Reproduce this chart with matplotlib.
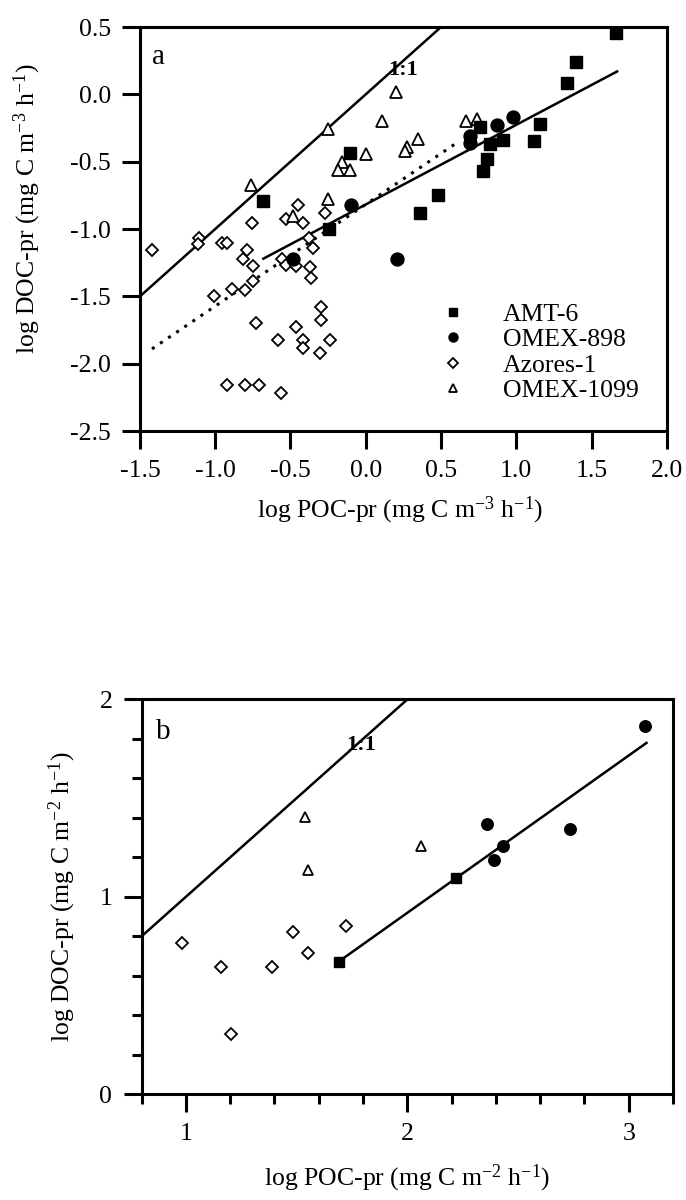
import numpy as np
import matplotlib
matplotlib.use("Agg")
import matplotlib.pyplot as plt
from matplotlib.lines import Line2D

plt.rcParams['font.family'] = ['Liberation Serif', 'DejaVu Serif']
plt.rcParams['mathtext.fontset'] = 'custom'
plt.rcParams['mathtext.rm'] = 'Liberation Serif'
plt.rcParams['mathtext.it'] = 'Liberation Serif:italic'
plt.rcParams['axes.unicode_minus'] = False

# ---- panel a: volumetric rates ----
amt_a_x = [-0.68, -0.105, -0.245, 0.363, 0.477, 0.758, 0.779, 0.808, 0.824, 0.913,
           1.116, 1.156, 1.34, 1.395, 1.665]
amt_a_y = [-0.79, -0.435, -1.0, -0.883, -0.749, -0.239, -0.567, -0.48, -0.369, -0.338,
           -0.348, -0.219, 0.087, 0.241, 0.453]

omex898_a_x = [-0.48, -0.10, 0.21, 0.69, 0.69, 0.873, 0.975]
omex898_a_y = [-1.22, -0.82, -1.22, -0.31, -0.36, -0.224, -0.169]

azores_a_x = [-1.42, -1.108, -1.117, -0.958, -0.924, -0.758, -0.453, -0.533, -0.416, -0.272,
              -0.378, -0.349, -0.787, -0.814, -0.748, -0.559, -0.533, -0.46, -0.371, -0.365,
              -0.748, -0.803, -0.887, -1.007, -0.294, -0.298, -0.732, -0.46, -0.582, -0.42,
              -0.416, -0.238, -0.305, -0.92, -0.803, -0.71, -0.564]
azores_a_y = [-1.159, -1.065, -1.114, -1.107, -1.102, -0.953, -0.821, -0.928, -0.957, -0.883,
              -1.065, -1.139, -1.157, -1.226, -1.276, -1.219, -1.264, -1.276, -1.284, -1.363,
              -1.383, -1.455, -1.445, -1.495, -1.582, -1.674, -1.699, -1.724, -1.826, -1.821,
              -1.886, -1.826, -1.923, -2.155, -2.155, -2.155, -2.221]

omex1099_a_x = [-0.76, -0.25, -0.25, -0.48, -0.157, -0.187, -0.106, 0.0, 0.105, 0.198,
                0.271, 0.26, 0.348, 0.669, 0.736]
omex1099_a_y = [-0.67, -0.26, -0.78, -0.90, -0.50, -0.56, -0.56, -0.44, -0.20, 0.017,
                -0.39, -0.42, -0.33, -0.20, -0.18]

one_a_x = [-1.5, 0.5]
fit_a_x = [-0.68, 1.67]
fit_a_y = [-1.22, 0.17]
dot_a_x = [-1.42, 0.61]
dot_a_y = [-1.89, -0.356]

xticks_a = [-1.5, -1.0, -0.5, 0.0, 0.5, 1.0, 1.5, 2.0]
yticks_a = [-2.5, -2.0, -1.5, -1.0, -0.5, 0.0, 0.5]

# ---- panel b: integrated rates ----
amt_b_x = [1.692, 2.222]
amt_b_y = [0.672, 1.094]
omex898_b_x = [2.362, 2.392, 2.433, 2.734, 3.072]
omex898_b_y = [1.367, 1.186, 1.257, 1.343, 1.866]
azores_b_x = [0.981, 1.161, 1.203, 1.391, 1.482, 1.553, 1.722]
azores_b_y = [0.765, 0.646, 0.304, 0.646, 0.823, 0.714, 0.854]
omex1099_b_x = [1.539, 1.553, 2.064]
omex1099_b_y = [1.406, 1.136, 1.257]

one_b_x = [0.8, 2.0]
fit_b_x = [1.69, 3.08]
fit_b_y = [0.672, 1.78]

xticks_b = [1, 2, 3]
yticks_b = [0, 1, 2]

labels = ['AMT-6', 'OMEX-898', 'Azores-1', 'OMEX-1099']

fs = 18.5
lw_sp = 2.2

fig = plt.figure(figsize=(6.86, 12), dpi=100)
axa = fig.add_axes([0.204, 0.6408, 0.768, 0.3367])
axb = fig.add_axes([0.2063, 0.0881, 0.7748, 0.329])


def style(ax):
    for s in ax.spines.values():
        s.set_linewidth(lw_sp)
    ax.tick_params(which='major', direction='out', length=13, width=lw_sp,
                   labelsize=fs, pad=8)
    ax.tick_params(which='minor', direction='out', length=7, width=lw_sp)
    ax.tick_params(top=False, right=False, which='both')


# panel a
axa.plot(one_a_x, one_a_x, color='black', lw=1.8)
axa.plot(fit_a_x, fit_a_y, color='black', lw=1.8)
axa.plot(dot_a_x, dot_a_y, color='black', lw=2.2, linestyle=(0, (1, 2.2)))
axa.plot(azores_a_x, azores_a_y, 'D', ms=6.5, mfc='white', mec='black', mew=1.3, ls='none')
axa.plot(omex1099_a_x, omex1099_a_y, '^', ms=8, mfc='white', mec='black', mew=1.3, ls='none')
axa.plot(amt_a_x, amt_a_y, 's', ms=8.3, color='black', ls='none')
axa.plot(omex898_a_x, omex898_a_y, 'o', ms=9.3, color='black', ls='none')
axa.set_xlim(-1.5, 2.0)
axa.set_ylim(-2.5, 0.5)
axa.set_xticks(xticks_a)
axa.set_yticks(yticks_a)
axa.set_xticklabels([f'{v:.1f}' for v in xticks_a])
axa.set_yticklabels([f'{v:.1f}' for v in yticks_a])
style(axa)
axa.set_xlabel('log POC-pr (mg C m$^{-3}$ h$^{-1}$)', fontsize=fs)
axa.set_ylabel('log DOC-pr (mg C m$^{-3}$ h$^{-1}$)', fontsize=fs)
axa.xaxis.set_label_coords(0.493, -0.158)
axa.yaxis.set_label_coords(-0.184, 0.55)
axa.text(-1.38, 0.28, 'a', fontsize=21, va='center', ha='center')
axa.text(0.246, 0.18, '1:1', fontsize=16, fontweight='bold', va='center', ha='center')

handles = [
    Line2D([], [], marker='s', ms=5.5, color='black', ls='none'),
    Line2D([], [], marker='o', ms=6.5, color='black', ls='none'),
    Line2D([], [], marker='D', ms=4.8, mfc='white', mec='black', mew=1.3, ls='none'),
    Line2D([], [], marker='^', ms=6, mfc='white', mec='black', mew=1.3, ls='none'),
]
axa.legend(handles, labels, loc='upper left', bbox_to_anchor=(0.557, 0.318),
           frameon=False, fontsize=fs, handlelength=1.5, handletextpad=1.2,
           labelspacing=0.1, borderpad=0, borderaxespad=0)

# panel b
axb.plot(one_b_x, one_b_x, color='black', lw=1.8)
axb.plot(fit_b_x, fit_b_y, color='black', lw=1.8)
axb.plot(azores_b_x, azores_b_y, 'D', ms=5.8, mfc='white', mec='black', mew=1.3, ls='none')
axb.plot(omex1099_b_x, omex1099_b_y, '^', ms=7, mfc='white', mec='black', mew=1.3, ls='none')
axb.plot(amt_b_x, amt_b_y, 's', ms=7.3, color='black', ls='none')
axb.plot(omex898_b_x, omex898_b_y, 'o', ms=8.3, color='black', ls='none')
axb.set_xlim(0.8, 3.2)
axb.set_ylim(0, 2)
axb.set_xticks(xticks_b)
axb.set_yticks(yticks_b)
axb.set_xticks(np.arange(0.8, 3.21, 0.2), minor=True)
axb.set_yticks(np.arange(0.0, 2.01, 0.2), minor=True)
style(axb)
axb.set_xlabel('log POC-pr (mg C m$^{-2}$ h$^{-1}$)', fontsize=fs)
axb.set_ylabel('log DOC-pr (mg C m$^{-2}$ h$^{-1}$)', fontsize=fs)
axb.xaxis.set_label_coords(0.5, -0.174)
axb.yaxis.set_label_coords(-0.119, 0.5)
axb.text(0.898, 1.836, 'b', fontsize=21, va='center', ha='center')
axb.text(1.79, 1.77, '1:1', fontsize=16, fontweight='bold', va='center', ha='center')

fig.savefig('out.png', dpi=100)
